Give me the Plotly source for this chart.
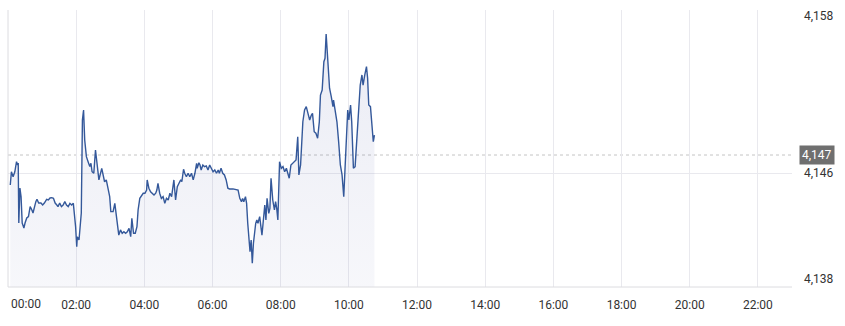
import pandas as pd
import plotly.graph_objects as go

# ---- data ----
minutes = [4, 6, 9, 12, 15, 17, 18, 19, 21, 23, 25, 28, 30, 33, 36, 39, 42, 44, 49, 51,
           54, 58, 61, 64, 68, 71, 74, 77, 80, 83, 86, 88, 91, 94, 97, 100, 103, 106, 109, 112,
           115, 116, 119, 121, 122, 125, 127, 129, 131, 133, 135, 138, 141, 144, 146, 148, 151, 154, 156, 160,
           165, 167, 170, 173, 176, 179, 181, 185, 188, 191, 193, 195, 198, 201, 204, 207, 210, 213, 216, 218,
           221, 224, 227, 229, 232, 235, 238, 241, 244, 245, 248, 251, 254, 257, 260, 262, 264, 267, 270, 273,
           276, 279, 282, 285, 288, 290, 292, 295, 298, 301, 304, 306, 309, 311, 314, 317, 320, 323, 326, 329,
           332, 333, 336, 338, 340, 343, 346, 349, 352, 355, 358, 361, 364, 367, 370, 372, 375, 378, 381, 384,
           387, 390, 396, 402, 405, 408, 411, 413, 415, 418, 420, 422, 425, 426, 428, 430, 432, 434, 436, 438,
           440, 443, 445, 447, 449, 452, 454, 456, 459, 461, 463, 466, 469, 471, 473, 475, 478, 481, 484, 487,
           490, 492, 495, 498, 501, 504, 507, 510, 512, 515, 517, 519, 522, 525, 528, 531, 534, 536, 539, 542,
           545, 548, 550, 553, 556, 558, 560, 563, 566, 569, 572, 573, 576, 579, 582, 585, 588, 591, 593, 595,
           598, 600, 603, 605, 607, 608, 611, 614, 617, 620, 623, 625, 628, 631, 633, 635, 638, 640, 643, 645]

prices = [4145.36, 4146.32, 4145.96, 4146.32, 4147.05, 4146.81, 4146.95, 4142.62, 4145.15, 4144.52,
          4142.62, 4142.26, 4142.62, 4142.98, 4143.08, 4143.80, 4143.56, 4143.34, 4144.16, 4144.33,
          4144.06, 4144.06, 4143.92, 4144.06, 4144.33, 4144.28, 4144.43, 4144.45, 4144.40, 4144.06,
          4143.92, 4143.80, 4144.06, 4143.80, 4143.92, 4144.16, 4143.92, 4143.80, 4144.04, 4143.92,
          4144.04, 4143.68, 4142.35, 4140.91, 4141.63, 4141.39, 4142.84, 4143.34, 4150.06, 4150.78,
          4148.61, 4147.41, 4147.05, 4146.69, 4146.93, 4146.32, 4146.21, 4147.89, 4147.17, 4145.73,
          4146.57, 4146.21, 4145.60, 4145.73, 4145.13, 4144.52, 4143.44, 4143.44, 4144.04, 4143.08,
          4142.35, 4141.75, 4142.12, 4141.88, 4141.99, 4141.88, 4141.99, 4142.24, 4141.63, 4142.96,
          4141.88, 4141.88, 4142.35, 4143.56, 4144.40, 4144.64, 4144.77, 4144.77, 4145.00, 4145.73,
          4145.13, 4144.88, 4144.77, 4144.64, 4144.77, 4145.00, 4145.49, 4144.77, 4144.40, 4144.52,
          4144.04, 4144.40, 4144.28, 4144.77, 4144.52, 4145.00, 4145.73, 4144.28, 4145.24, 4145.49,
          4145.73, 4145.60, 4146.50, 4146.21, 4145.96, 4146.21, 4145.96, 4146.21, 4145.73, 4146.21,
          4146.93, 4146.57, 4146.97, 4146.81, 4146.45, 4146.81, 4146.69, 4146.74, 4146.45, 4146.81,
          4146.57, 4146.32, 4146.45, 4146.21, 4146.45, 4146.21, 4146.57, 4146.21, 4146.09, 4145.73,
          4145.13, 4145.08, 4145.08, 4145.05, 4145.00, 4144.40, 4144.16, 4144.40, 4144.16, 4144.52,
          4144.04, 4142.60, 4141.16, 4140.55, 4141.39, 4139.71, 4141.16, 4141.99, 4142.60, 4142.84,
          4142.60, 4143.08, 4142.35, 4141.75, 4142.60, 4143.92, 4142.84, 4144.40, 4143.32, 4143.68,
          4145.85, 4144.28, 4143.56, 4144.16, 4143.68, 4142.84, 4147.05, 4146.57, 4146.69, 4146.32,
          4146.57, 4146.21, 4145.85, 4146.81, 4146.93, 4147.05, 4147.17, 4148.85, 4146.09, 4146.81,
          4148.01, 4149.93, 4150.78, 4151.02, 4150.54, 4150.06, 4150.42, 4150.54, 4149.21, 4149.10,
          4148.74, 4149.93, 4151.86, 4152.22, 4154.27, 4154.51, 4156.27, 4153.79, 4152.35, 4151.74,
          4151.02, 4151.50, 4150.78, 4149.93, 4148.49, 4146.81, 4146.09, 4144.52, 4146.32, 4148.74,
          4150.78, 4150.06, 4151.14, 4149.93, 4148.25, 4146.57, 4146.69, 4148.49, 4150.90, 4152.58,
          4153.31, 4152.58, 4153.31, 4153.91, 4153.07, 4151.14, 4151.02, 4149.70, 4148.49, 4148.97]

prev_close = 4147.53
prev_close_label = "4,147"
y_min, y_max = 4138, 4158
y_tick_vals = [4158, 4146.23, 4138]
y_tick_text = ["4,158", "4,146", "4,138"]
x_tick_hours = [2, 4, 6, 8, 10, 12, 14, 16, 18, 20, 22]
day = pd.Timestamp("2024-01-02")

# ---- figure ----
times = [day + pd.Timedelta(minutes=m) for m in minutes]
x_start = day
x_end = day + pd.Timedelta(hours=23)

LINE = "#34589a"
GRID = "#e9e9ee"
TEXT = "#333333"
FONT = "Roboto"

fig = go.Figure()
fig.add_trace(go.Scatter(
    x=times, y=prices, mode="lines",
    line=dict(color=LINE, width=1.4),
    fill="tozeroy",
    fillgradient=dict(type="vertical", start=y_min, stop=y_max,
                      colorscale=[[0, "rgba(90,100,170,0.05)"], [1, "rgba(90,100,170,0.13)"]]),
    hoverinfo="skip", showlegend=False,
))

# previous close dashed line
fig.add_shape(type="line", xref="paper", x0=0, x1=1, yref="y", y0=prev_close, y1=prev_close,
              line=dict(color="#c4c4c4", width=1, dash="3px,3px"), layer="below")
# left edge & bottom edge
fig.add_shape(type="line", xref="paper", x0=0, x1=0, yref="paper", y0=0, y1=1,
              line=dict(color="#dcdce0", width=1))
fig.add_shape(type="line", xref="paper", x0=0, x1=1, yref="paper", y0=0, y1=0,
              line=dict(color="#dcdce0", width=1))

annotations = []
shifts = {0: -6, 1: 0, 2: 8}
for i, (v, t) in enumerate(zip(y_tick_vals, y_tick_text)):
    annotations.append(dict(x=1, xref="paper", xanchor="left", xshift=10, y=v, yref="y",
                            yanchor="middle", yshift=shifts[i], text=t, showarrow=False,
                            font=dict(family=FONT, size=12, color=TEXT)))
annotations.append(dict(x=1, xref="paper", xanchor="left", xshift=7, y=prev_close, yref="y",
                        yanchor="middle", text=prev_close_label, showarrow=False,
                        bgcolor="#6f6f6f", borderpad=2,
                        font=dict(family=FONT, size=12, color="#ffffff")))
annotations.append(dict(x=0, xref="paper", xanchor="left", xshift=1, y=0, yref="paper",
                        yanchor="top", yshift=-8, text="00:00", showarrow=False,
                        font=dict(family=FONT, size=12, color=TEXT)))

fig.update_layout(
    width=845, height=326,
    margin=dict(l=8, r=53, t=10, b=39),
    paper_bgcolor="white", plot_bgcolor="white",
    annotations=annotations,
    xaxis=dict(
        range=[x_start, x_end], type="date",
        tickvals=[day + pd.Timedelta(hours=h) for h in x_tick_hours],
        ticktext=[f"{h:02d}:00" for h in x_tick_hours],
        showgrid=True, gridcolor=GRID, gridwidth=1,
        showline=False, zeroline=False, ticks="",
        tickfont=dict(family=FONT, size=12, color=TEXT),
        ticklabelstandoff=9,
    ),
    yaxis=dict(
        range=[y_min, y_max], side="right",
        tickvals=y_tick_vals, showticklabels=False,
        showgrid=True, gridcolor=GRID, gridwidth=1,
        showline=False, zeroline=False, ticks="",
    ),
)

fig.write_html("out.html")
